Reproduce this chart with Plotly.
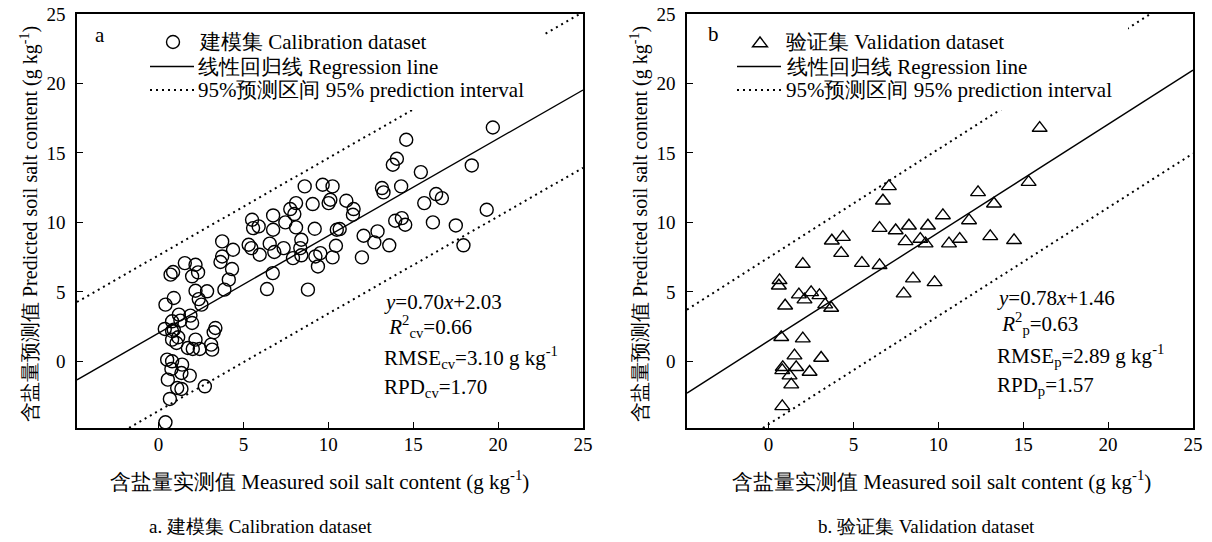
import plotly.graph_objects as go

# ---------------- data ----------------
cal_x = [19.69, 14.59, 14.04, 13.8, 18.45, 15.45, 14.29, 13.16, 13.25, 8.61, 9.67, 10.25, 10.12, 10.02,
         11.06, 8.1, 9.08, 11.49, 11.45, 7.76, 8.0, 16.35, 16.69, 15.65, 19.33, 5.51, 5.57, 5.9, 6.75,
         6.75, 7.47, 8.1, 9.2, 10.67, 10.5, 13.94, 14.33, 14.53, 16.16, 17.51, 12.08, 12.9, 12.71, 13.59,
         17.96, 3.75, 5.31, 5.47, 6.55, 7.37, 8.41, 8.35, 10.45, 5.96, 6.82, 7.92, 8.41, 9.24, 9.53, 10.25,
         11.98, 4.39, 3.75, 3.65, 9.39, 4.33, 4.14, 3.88, 6.73, 6.39, 8.8, 1.55, 2.18, 1.98, 2.33, 0.71,
         0.86, 2.18, 2.86, 0.9, 0.41, 2.37, 2.53, 0.37, 0.8, 1.2, 1.29, 1.88, 1.98, 0.9, 0.8, 1.16, 1.06,
         1.73, 2.18, 2.02, 2.43, 3.16, 3.1, 3.35, 3.25, 0.51, 0.8, 0.76, 1.39, 1.35, 1.84, 0.55, 1.1, 1.35,
         2.73, 0.67, 0.41, 0.8]
cal_y = [16.83, 15.95, 14.58, 14.15, 14.1, 13.62, 12.59, 12.47, 12.16, 12.59, 12.71, 12.59, 11.63, 11.39,
         11.56, 11.39, 11.32, 10.96, 10.55, 10.96, 10.6, 12.04, 11.75, 11.39, 10.91, 10.19, 9.59, 9.71, 10.5,
         9.47, 10.0, 9.64, 9.54, 9.52, 9.47, 10.12, 10.31, 9.83, 10.0, 9.78, 9.04, 9.35, 8.56, 8.35,
         8.35, 8.63, 8.39, 8.15, 8.47, 8.15, 8.75, 8.15, 8.32, 7.67, 7.87, 7.43, 7.63, 7.55, 7.79, 7.48,
         7.48, 8.03, 7.55, 7.15, 6.83, 6.64, 5.88, 5.16, 6.35, 5.2, 5.16, 7.07, 6.95, 6.12, 6.4, 6.24,
         6.43, 5.08, 5.04, 4.56, 4.08, 4.48, 4.08, 2.33, 2.88, 3.36, 2.93, 3.29, 2.76, 2.28, 1.56, 1.73, 1.32,
         0.96, 1.56, 0.89, 0.89, 0.84, 1.2, 2.4, 2.09, 0.12, 0.0, -0.55, -0.24, -0.84, -1.03, -1.32, -1.92, -1.99,
         -1.8, -2.71, -4.39, 2.18]

val_x = [15.97, 15.32, 7.09, 6.74, 12.34, 13.28, 10.27, 11.81, 6.54, 7.49, 8.27, 9.39, 8.94, 8.07, 9.25,
         10.63, 11.26, 13.06, 14.46, 3.73, 4.38, 4.28, 5.5, 6.54, 2.02, 8.51, 9.78, 7.96, 0.65, 0.61, 1.79,
         2.51, 3.0, 2.12, 3.34, 3.69, 0.98, 0.75, 2.02, 1.53, 3.1, 0.84, 0.81, 1.63, 2.42, 1.24, 1.34, 0.81]
val_y = [16.79, 12.9, 12.59, 11.56, 12.16, 11.34, 10.5, 10.14, 9.59, 9.42, 9.76, 9.76, 8.8, 8.63, 8.47,
         8.47, 8.8, 8.99, 8.71, 8.68, 8.94, 7.79, 7.07, 6.91, 7.0, 5.95, 5.68, 4.87, 5.83, 5.44, 4.8,
         4.96, 4.75, 4.44, 4.08, 3.84, 4.0, 1.73, 1.63, 0.41, 0.24, -0.43, -0.65, -0.43, -0.77, -1.03, -1.68, -3.24]

cal_slope, cal_intercept, cal_pi = 0.70, 2.03, 5.6
val_slope, val_intercept, val_pi = 0.78, 1.46, 6.0

axis_range = [-4.8, 25]
tick_vals = [0, 5, 10, 15, 20, 25]
tick_text = ["0", "5", "10", "15", "20", "25"]

cal_legend = ["建模集 Calibration dataset", "线性回归线 Regression line", "95%预测区间 95% prediction interval"]
val_legend = ["验证集 Validation dataset", "线性回归线 Regression line", "95%预测区间 95% prediction interval"]

cal_stats = ["<i>y</i>=0.70<i>x</i>+2.03",
             " <i>R</i><sup>2</sup><sub>cv</sub>=0.66",
             "RMSE<sub>cv</sub>=3.10 g kg<sup>-1</sup>",
             "RPD<sub>cv</sub>=1.70"]
val_stats = ["<i>y</i>=0.78<i>x</i>+1.46",
             " <i>R</i><sup>2</sup><sub>p</sub>=0.63",
             "RMSE<sub>p</sub>=2.89 g kg<sup>-1</sup>",
             "RPD<sub>p</sub>=1.57"]

x_title = "含盐量实测值 Measured soil salt content (g kg<sup>-1</sup>)"
y_title = "含盐量预测值 Predicted soil salt content (g kg<sup>-1</sup>)"
captions = ["a. 建模集 Calibration dataset", "b. 验证集 Validation dataset"]

# ---------------- layout helpers ----------------
FONT = "Liberation Serif"
OFF = 0                      # body margin is removed below, so the figure starts at the page corner
W, H = 1212, 542
DOT = "2px,4px"


def fx(p):
    return (p - OFF) / W


def fy(p):
    return 1 - (p - OFF) / H


fig = go.Figure()


def add_panel(xs, ys, slope, icpt, pi, xa, ya, symbol, names):
    lx = axis_range
    reg = [slope * v + icpt for v in lx]
    fig.add_trace(go.Scatter(x=xs, y=ys, mode="markers", name=names[0], xaxis=xa, yaxis=ya, showlegend=False,
                             marker=dict(symbol=symbol, size=13, color="black",
                                         line=dict(width=1.4, color="black"))))
    fig.add_trace(go.Scatter(x=lx, y=reg, mode="lines", name=names[1], xaxis=xa, yaxis=ya, showlegend=False,
                             line=dict(color="black", width=1.4)))
    fig.add_trace(go.Scatter(x=lx, y=[r + pi for r in reg], mode="lines", name=names[2], xaxis=xa, yaxis=ya,
                             showlegend=False, line=dict(color="black", width=2, dash=DOT)))
    fig.add_trace(go.Scatter(x=lx, y=[r - pi for r in reg], mode="lines", name=names[2], xaxis=xa, yaxis=ya,
                             showlegend=False, line=dict(color="black", width=2, dash=DOT)))


add_panel(cal_x, cal_y, cal_slope, cal_intercept, cal_pi, "x", "y", "circle-open", cal_legend)
add_panel(val_x, val_y, val_slope, val_intercept, val_pi, "x2", "y2", "triangle-up-open", val_legend)

ax_common = dict(range=axis_range, tickvals=tick_vals, ticktext=tick_text, ticks="inside", ticklen=6,
                 tickwidth=1.2, tickcolor="black", showline=True, linecolor="black", linewidth=1.5,
                 mirror=True, showgrid=False, zeroline=False, automargin=False,
                 tickfont=dict(family=FONT, size=19, color="black"))

y_dom = [fy(428), fy(14)]
fig.update_layout(
    width=W, height=H, margin=dict(l=0, r=0, t=0, b=0),
    paper_bgcolor="white", plot_bgcolor="white", showlegend=False,
    font=dict(family=FONT, size=19, color="black"),
    xaxis=dict(domain=[fx(77), fx(583)], anchor="y", ticklabelstandoff=-2, **ax_common),
    yaxis=dict(domain=y_dom, anchor="x", ticklabelstandoff=6, **ax_common),
    xaxis2=dict(domain=[fx(687), fx(1193)], anchor="y2", ticklabelstandoff=-2, **ax_common),
    yaxis2=dict(domain=y_dom, anchor="x2", ticklabelstandoff=6, **ax_common),
)

# ---------------- legend (white box, symbols, texts) ----------------
shapes = []
ann = []


def legend_block(box, sym_x, line_x, text_x, rows, symbol, labels):
    x0, y0, x1, y1 = box
    shapes.append(dict(type="rect", xref="paper", yref="paper", x0=fx(x0), x1=fx(x1), y0=fy(y1), y1=fy(y0),
                       fillcolor="white", line=dict(width=0), layer="above"))
    if symbol == "circle":
        shapes.append(dict(type="circle", xref="paper", yref="paper", xsizemode="pixel", ysizemode="pixel",
                           xanchor=fx(sym_x), yanchor=fy(rows[0]), x0=-6.5, x1=6.5, y0=-6.5, y1=6.5,
                           line=dict(color="black", width=1.4), layer="above"))
    else:
        shapes.append(dict(type="path", xref="paper", yref="paper", xsizemode="pixel", ysizemode="pixel",
                           xanchor=fx(sym_x), yanchor=fy(rows[0] + 1.5),
                           path="M-7.5,-3.25 L7.5,-3.25 L0,6.5 Z",
                           line=dict(color="black", width=1.4), layer="above"))
    shapes.append(dict(type="line", xref="paper", yref="paper", x0=fx(line_x[0]), x1=fx(line_x[1]),
                       y0=fy(rows[1]), y1=fy(rows[1]), line=dict(color="black", width=1.4), layer="above"))
    shapes.append(dict(type="line", xref="paper", yref="paper", x0=fx(line_x[0]), x1=fx(line_x[1]),
                       y0=fy(rows[2]), y1=fy(rows[2]), line=dict(color="black", width=2, dash=DOT),
                       layer="above"))
    for lab, r, tx in zip(labels, rows, text_x):
        ann.append(dict(text=lab, x=fx(tx), y=fy(r), xanchor="left", yanchor="middle",
                        font=dict(family=FONT, size=21, color="black")))


legend_block((140, 22, 543, 110), 173, (150, 194), (197, 196, 196), (42, 66.5, 90), "circle", cal_legend)
legend_block((727, 20, 1128, 110), 760, (737, 781), (784, 785, 784), (42, 66.5, 90), "triangle", val_legend)

# panel letters
ann.append(dict(text="a", x=fx(100), y=fy(35), xanchor="center", yanchor="middle",
                font=dict(family=FONT, size=21, color="black")))
ann.append(dict(text="b", x=fx(713), y=fy(34), xanchor="center", yanchor="middle",
                font=dict(family=FONT, size=21, color="black")))
# axis titles
for cx in (320, 941):
    ann.append(dict(text=x_title, x=fx(cx), y=fy(480), xanchor="center", yanchor="middle",
                    font=dict(family=FONT, size=21, color="black")))
for cx in (30, 640):
    ann.append(dict(text=y_title, x=fx(cx), y=fy(224), xanchor="center", yanchor="middle", textangle=-90,
                    font=dict(family=FONT, size=20, color="black")))
# subcaptions
for txt, cx in zip(captions, (260, 926)):
    ann.append(dict(text=txt, x=fx(cx), y=fy(526), xanchor="center", yanchor="middle",
                    font=dict(family=FONT, size=19, color="black")))
# statistics
for txt, yy in zip(cal_stats, (302, 326, 357, 388)):
    ann.append(dict(text=txt, x=fx(382), y=fy(yy), xanchor="left", yanchor="middle",
                    font=dict(family=FONT, size=21, color="black")))
for txt, yy in zip(val_stats, (298, 323, 355, 386)):
    ann.append(dict(text=txt, x=fx(995), y=fy(yy), xanchor="left", yanchor="middle",
                    font=dict(family=FONT, size=21, color="black")))

for a in ann:
    a.update(xref="paper", yref="paper", showarrow=False)

fig.update_layout(shapes=shapes, annotations=ann)

fig.write_html("out.html", config={"displayModeBar": False},
               post_script="document.body.style.margin = '0';")
